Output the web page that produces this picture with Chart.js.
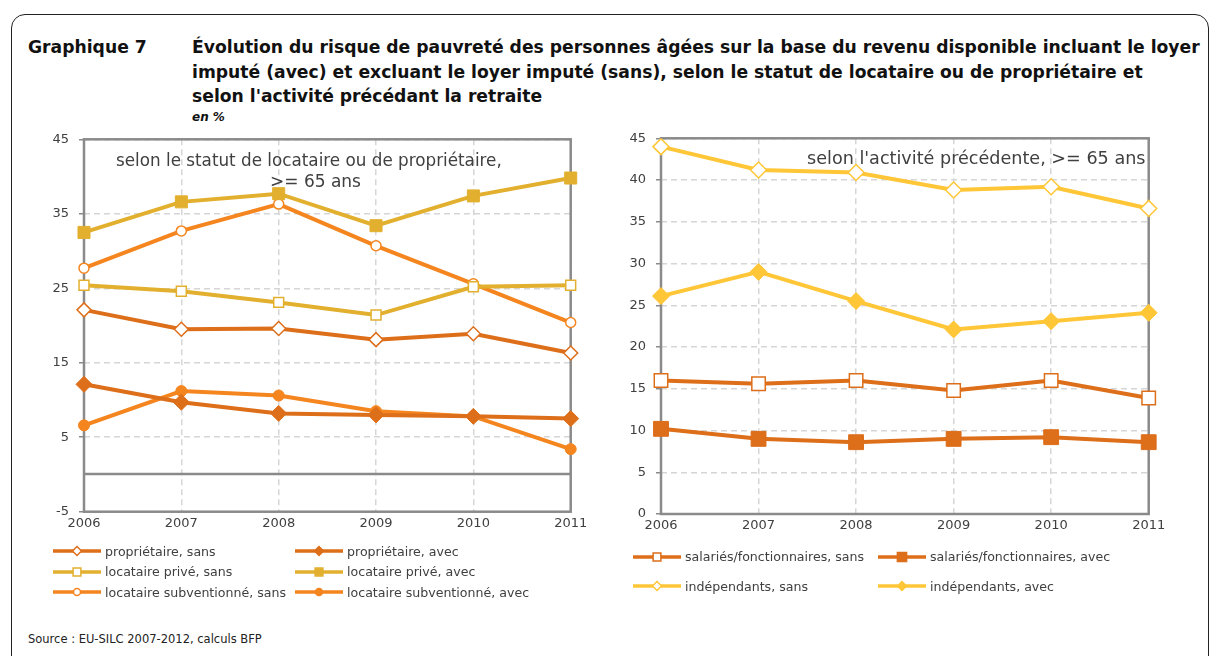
<!DOCTYPE html>
<html>
<head>
<meta charset="utf-8">
<script src="https://cdn.jsdelivr.net/npm/chart.js@4/dist/chart.umd.min.js"></script>
<style>
  body { margin: 0; width: 1209px; height: 656px; background: #fff; position: relative; overflow: hidden; font-family: "DejaVu Sans", sans-serif; }
  .frame { position: absolute; left: 11px; top: 14px; width: 1196px; height: 700px; border: 1.5px solid #222; border-radius: 14px; }
  .abs { position: absolute; white-space: nowrap; }
  .title { font-weight: bold; font-size: 17.2px; line-height: 24.5px; color: #111; }
  .note { font-size: 17px; color: #404040; line-height: 20px; }
  .legend { position: absolute; display: grid; font-size: 12.6px; color: #404040; }
  .legend .item { display: flex; align-items: center; white-space: nowrap; }
  .legend canvas { margin-right: 4px; }
  canvas.chart { position: absolute; }
</style>
</head>
<body>
<div class="frame"></div>
<div class="abs title" style="left:28px; top:35px;">Graphique 7</div>
<div class="abs title" style="left:192px; top:35px;">Évolution du risque de pauvreté des personnes âgées sur la base du revenu disponible incluant le loyer<br>imputé (avec) et excluant le loyer imputé (sans), selon le statut de locataire ou de propriétaire et<br>selon l'activité précédant la retraite</div>
<div class="abs" style="left:192px; top:110px; font-size:12px; font-weight:bold; font-style:italic; color:#111;">en %</div>

<canvas id="leftChart" class="chart" width="610" height="430" style="left:0; top:120px;"></canvas>
<canvas id="rightChart" class="chart" width="609" height="430" style="left:600px; top:120px;"></canvas>

<div class="abs note" style="left:116px; top:150px; font-size:16.8px;">selon le statut de locataire ou de propriétaire,</div>
<div class="abs note" style="left:270px; top:171px;">&gt;= 65 ans</div>
<div class="abs note" style="left:807px; top:148px; font-size:17.6px;">selon l'activité précédente, &gt;= 65 ans</div>

<div id="leftLegend" class="legend" style="left:53px; top:541px; grid-template-columns: 242px 270px; grid-auto-rows: 20.5px;"></div>
<div id="rightLegend" class="legend" style="left:633px; top:542px; grid-template-columns: 245px 270px; grid-auto-rows: 29.5px;"></div>

<div class="abs" style="left:28px; top:632px; font-size:11.5px; color:#222;">Source : EU-SILC 2007-2012, calculs BFP</div>

<script>
// years on the x axis
const years = ['2006', '2007', '2008', '2009', '2010', '2011'];

// left panel: by tenure status
const proprietaireSans = [22.1, 19.5, 19.6, 18.1, 18.9, 16.3];
const proprietaireAvec = [12.1, 9.7, 8.2, 8.0, 7.8, 7.5];
const priveSans = [25.4, 24.6, 23.1, 21.4, 25.2, 25.4];
const priveAvec = [32.5, 36.6, 37.7, 33.4, 37.4, 39.8];
const subventionneSans = [27.7, 32.7, 36.3, 30.7, 25.6, 20.4];
const subventionneAvec = [6.6, 11.2, 10.6, 8.5, 7.8, 3.4];

// right panel: by previous activity
const salariesSans = [16.0, 15.6, 16.0, 14.8, 16.0, 13.9];
const salariesAvec = [10.2, 9.0, 8.6, 9.0, 9.2, 8.6];
const independantsSans = [44.0, 41.2, 40.9, 38.8, 39.2, 36.6];
const independantsAvec = [26.1, 29.0, 25.5, 22.1, 23.1, 24.1];

// tick labels
const leftTicks = [-5, 5, 15, 25, 35, 45];
const rightTicks = [0, 5, 10, 15, 20, 25, 30, 35, 40, 45];

const DARK = 'rgb(221, 110, 26)';
const GOLD = 'rgb(226, 176, 46)';
const ORANGE = 'rgb(244, 133, 31)';
const YELLOW = 'rgb(255, 198, 55)';

function series(label, data, color, style, radius, hollow, legendRadius) {
  return {
    label: label,
    data: data,
    borderColor: color,
    backgroundColor: color,
    borderWidth: 4,
    tension: 0,
    pointStyle: style,
    pointRadius: radius,
    pointHoverRadius: radius,
    pointBackgroundColor: hollow ? '#fff' : color,
    pointBorderColor: color,
    pointBorderWidth: hollow ? 1.5 : 1,
    legendRadius: legendRadius,
    hollow: hollow
  };
}

const leftSets = [
  series('propriétaire, sans', proprietaireSans, DARK, 'rectRot', 7, true, 4.5),
  series('propriétaire, avec', proprietaireAvec, DARK, 'rectRot', 8, false, 4.5),
  series('locataire privé, sans', priveSans, GOLD, 'rect', 7, true, 5.5),
  series('locataire privé, avec', priveAvec, GOLD, 'rect', 8.5, false, 5.5),
  series('locataire subventionné, sans', subventionneSans, ORANGE, 'circle', 5, true, 3.5),
  series('locataire subventionné, avec', subventionneAvec, ORANGE, 'circle', 5.5, false, 3.5)
];

const rightSets = [
  series('salariés/fonctionnaires, sans', salariesSans, DARK, 'rect', 9.5, true, 5.5),
  series('salariés/fonctionnaires, avec', salariesAvec, DARK, 'rect', 10.5, false, 6.5),
  series('indépendants, sans', independantsSans, YELLOW, 'rectRot', 8, true, 4.5),
  series('indépendants, avec', independantsAvec, YELLOW, 'rectRot', 8.5, false, 4.5)
];

// grey frame round the plot area, plus an optional zero line
const framePlugin = {
  id: 'frame',
  beforeDatasetsDraw(chart, args, opts) {
    const { ctx, chartArea: a, scales } = chart;
    ctx.save();
    ctx.strokeStyle = '#8a8a8a';
    ctx.lineWidth = 2.5;
    ctx.strokeRect(a.left, a.top, a.right - a.left, a.bottom - a.top);
    if (opts.zeroLine) {
      const y = Math.round(scales.y.getPixelForValue(0));
      ctx.beginPath();
      ctx.moveTo(a.left, y);
      ctx.lineTo(a.right, y);
      ctx.stroke();
    }
    ctx.restore();
  }
};

function makeChart(id, datasets, ticks, padding, zeroLine) {
  const ctx = document.getElementById(id).getContext('2d');
  return new Chart(ctx, {
    type: 'line',
    data: { labels: years, datasets: datasets },
    plugins: [framePlugin],
    options: {
      responsive: false,
      animation: false,
      events: [],
      layout: { padding: padding },
      plugins: {
        legend: { display: false },
        tooltip: { enabled: false },
        frame: { zeroLine: zeroLine }
      },
      scales: {
        x: {
          offset: false,
          border: { display: false, dash: [6, 4] },
          grid: { color: '#d6d6d6', lineWidth: 1.5, drawTicks: false },
          ticks: { color: '#404040', padding: 4, maxRotation: 0, font: { family: 'DejaVu Sans', size: 13 } },
          afterFit: s => { s.height = 30; }
        },
        y: {
          min: ticks[0],
          max: ticks[ticks.length - 1],
          border: { display: false, dash: [6, 4] },
          grid: { color: '#d6d6d6', lineWidth: 1.5, tickLength: 5, tickColor: '#8a8a8a', tickBorderDash: [] },
          ticks: { color: '#404040', padding: 10, font: { family: 'DejaVu Sans', size: 13 } },
          afterBuildTicks: s => { s.ticks = ticks.map(v => ({ value: v })); },
          afterFit: s => { s.width = padding.yWidth; }
        }
      }
    }
  });
}

makeChart('leftChart', leftSets, leftTicks, { top: 19.3, right: 39.3, bottom: 8.3, left: 0, yWidth: 84 }, true);
makeChart('rightChart', rightSets, rightTicks, { top: 18.3, right: 60.3, bottom: 6, left: 0, yWidth: 61 }, false);

// small marker for the html legend
function drawMarker(ctx, style, x, y, r, fill, stroke) {
  ctx.beginPath();
  if (style === 'circle') {
    ctx.arc(x, y, r, 0, Math.PI * 2);
  } else if (style === 'rect') {
    const h = r * Math.SQRT1_2;
    ctx.rect(x - h, y - h, h * 2, h * 2);
  } else {
    ctx.moveTo(x - r, y);
    ctx.lineTo(x, y - r);
    ctx.lineTo(x + r, y);
    ctx.lineTo(x, y + r);
    ctx.closePath();
  }
  ctx.fillStyle = fill;
  ctx.fill();
  ctx.lineWidth = 1.5;
  ctx.strokeStyle = stroke;
  ctx.stroke();
}

function buildLegend(id, datasets) {
  const box = document.getElementById(id);
  datasets.forEach(ds => {
    const item = document.createElement('div');
    item.className = 'item';
    const c = document.createElement('canvas');
    c.width = 48;
    c.height = 14;
    const g = c.getContext('2d');
    g.strokeStyle = ds.borderColor;
    g.lineWidth = 3.5;
    g.beginPath();
    g.moveTo(0, 7);
    g.lineTo(48, 7);
    g.stroke();
    drawMarker(g, ds.pointStyle, 24, 7, ds.legendRadius, ds.hollow ? '#fff' : ds.borderColor, ds.borderColor);
    const span = document.createElement('span');
    span.textContent = ds.label;
    item.appendChild(c);
    item.appendChild(span);
    box.appendChild(item);
  });
}

buildLegend('leftLegend', leftSets);
buildLegend('rightLegend', rightSets);
</script>
</body>
</html>
